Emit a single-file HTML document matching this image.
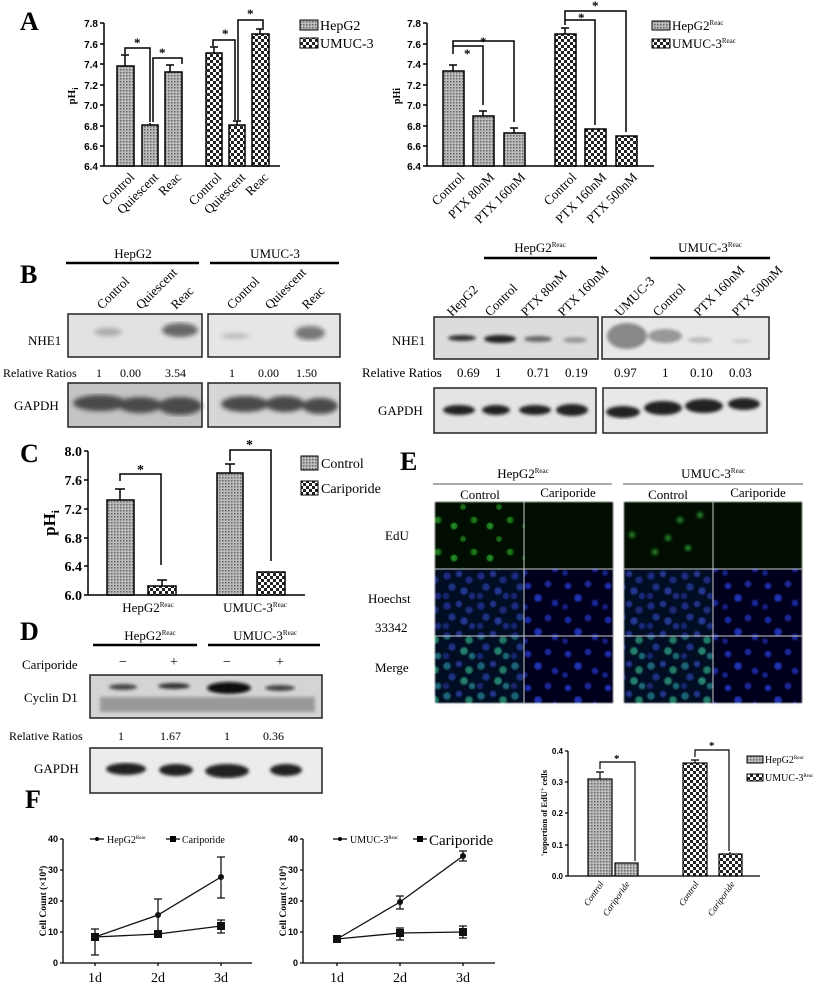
<!DOCTYPE html>
<html><head><meta charset="utf-8"><style>
body{margin:0;background:#fff}
svg{display:block;font-family:"Liberation Serif",serif}
</style></head><body>
<svg width="825" height="985" viewBox="0 0 825 985" xmlns="http://www.w3.org/2000/svg">
<defs>
<pattern id="pd" width="3" height="3" patternUnits="userSpaceOnUse"><rect width="3" height="3" fill="#bbb"/><rect width="1.5" height="1.5" fill="#666"/></pattern>
<pattern id="pc" width="6" height="6" patternUnits="userSpaceOnUse"><rect width="6" height="6" fill="#fff"/><rect width="3" height="3" fill="#222"/><rect x="3" y="3" width="3" height="3" fill="#222"/></pattern>
<pattern id="cb1" width="34" height="30" patternUnits="userSpaceOnUse"><rect width="34" height="30" fill="#050720"/><circle cx="5" cy="6" r="3.5" fill="#1c2c80"/><circle cx="17" cy="4" r="3" fill="#22348a"/><circle cx="27" cy="10" r="3.5" fill="#1a2a78"/><circle cx="10" cy="17" r="3.5" fill="#1e3080"/><circle cx="22" cy="21" r="3.5" fill="#243890"/><circle cx="4" cy="26" r="3" fill="#182670"/><circle cx="30" cy="26" r="3" fill="#1c2c80"/></pattern>
<pattern id="cb2" width="40" height="34" patternUnits="userSpaceOnUse"><rect width="40" height="34" fill="#04061c"/><circle cx="8" cy="8" r="3" fill="#1e2ca8"/><circle cx="28" cy="6" r="3" fill="#1a2898"/><circle cx="18" cy="20" r="3.5" fill="#2232b0"/><circle cx="35" cy="25" r="3" fill="#1a2898"/><circle cx="5" cy="29" r="2.5" fill="#16228c"/></pattern>
<pattern id="cm1" width="34" height="30" patternUnits="userSpaceOnUse"><rect width="34" height="30" fill="#050720"/><circle cx="5" cy="6" r="3.5" fill="#1c6478"/><circle cx="17" cy="4" r="3" fill="#22348a"/><circle cx="27" cy="10" r="3.5" fill="#207a68"/><circle cx="10" cy="17" r="3.5" fill="#1e3080"/><circle cx="22" cy="21" r="3.5" fill="#268070"/><circle cx="4" cy="26" r="3" fill="#182670"/><circle cx="30" cy="26" r="3" fill="#1c6878"/></pattern>
<pattern id="cg1" width="36" height="32" patternUnits="userSpaceOnUse"><rect width="36" height="32" fill="#030c05"/><circle cx="6" cy="8" r="3" fill="#1e781e"/><circle cx="22" cy="14" r="3" fill="#268a26"/><circle cx="31" cy="27" r="2.5" fill="#1e701e"/></pattern>
<filter id="bl"><feGaussianBlur stdDeviation="2.5"/></filter>
<filter id="bl1"><feGaussianBlur stdDeviation="1.5"/></filter>
<filter id="bl05"><feGaussianBlur stdDeviation="0.8"/></filter>
</defs>

<g font-weight="bold" font-size="26"><text x="20" y="30">A</text><text x="20" y="283">B</text><text x="20" y="462">C</text><text x="20" y="640">D</text><text x="400" y="470">E</text><text x="25" y="808">F</text></g>

<!-- A left -->
<g stroke="#000" stroke-width="1.5" fill="none">
<path d="M104,23V166H280"/>
<path d="M100,23h4M100,44h4M100,64h4M100,85h4M100,105h4M100,126h4M100,146h4M100,166h4"/>
</g>
<g font-size="10" font-weight="bold" text-anchor="end" font-family="Liberation Sans,sans-serif"><text x="98" y="27">7.8</text><text x="98" y="48">7.6</text><text x="98" y="68">7.4</text><text x="98" y="89">7.2</text><text x="98" y="109">7.0</text><text x="98" y="130">6.8</text><text x="98" y="150">6.6</text><text x="98" y="170">6.4</text></g>
<text transform="translate(75,96) rotate(-90)" font-size="11" font-weight="bold" text-anchor="middle">pH<tspan font-size="8" dy="3">i</tspan></text>
<g stroke="#000" stroke-width="1.5">
<rect x="117" y="66" width="17" height="100" fill="url(#pd)"/><rect x="142" y="125" width="16" height="41" fill="url(#pd)"/><rect x="165" y="72" width="17" height="94" fill="url(#pd)"/>
<rect x="206" y="53" width="16" height="113" fill="url(#pc)"/><rect x="229" y="125" width="16" height="41" fill="url(#pc)"/><rect x="252" y="34" width="17" height="132" fill="url(#pc)"/>
<path fill="none" d="M125,66V55M121,55h8M170,72V65M166,65h8M214,53V47M210,47h8M260,34V29M256,29h8M150,125V123M237,125V121M233,121h8"/>
<path fill="none" d="M125,54V48H150V122M153,122V58H182V64M213,46V40H235V120M238,120V20H263V28"/>
</g>
<g font-size="13" font-weight="bold"><text x="134" y="47">*</text><text x="159" y="57">*</text><text x="222" y="38">*</text><text x="247" y="18">*</text></g>
<g font-size="13" text-anchor="end"><text transform="translate(135,178) rotate(-45)">Control</text><text transform="translate(159,178) rotate(-45)">Quiescent</text><text transform="translate(182,178) rotate(-45)">Reac</text><text transform="translate(222,178) rotate(-45)">Control</text><text transform="translate(246,178) rotate(-45)">Quiescent</text><text transform="translate(269,178) rotate(-45)">Reac</text></g>
<rect x="300" y="20" width="18" height="10" fill="url(#pd)" stroke="#000"/><rect x="300" y="38" width="18" height="10" fill="url(#pc)" stroke="#000"/>
<g font-size="14"><text x="320" y="30">HepG2</text><text x="320" y="48">UMUC-3</text></g>

<!-- A right -->
<g stroke="#000" stroke-width="1.5" fill="none">
<path d="M427,23V166H654"/>
<path d="M423,23h4M423,44h4M423,64h4M423,85h4M423,105h4M423,126h4M423,146h4M423,166h4"/>
</g>
<g font-size="10" font-weight="bold" text-anchor="end" font-family="Liberation Sans,sans-serif"><text x="421" y="27">7.8</text><text x="421" y="48">7.6</text><text x="421" y="68">7.4</text><text x="421" y="89">7.2</text><text x="421" y="109">7.0</text><text x="421" y="130">6.8</text><text x="421" y="150">6.6</text><text x="421" y="170">6.4</text></g>
<text transform="translate(400,96) rotate(-90)" font-size="10" font-weight="bold" text-anchor="middle">pHi</text>
<g stroke="#000" stroke-width="1.5">
<rect x="443" y="71" width="21" height="95" fill="url(#pd)"/><rect x="473" y="116" width="21" height="50" fill="url(#pd)"/><rect x="504" y="133" width="21" height="33" fill="url(#pd)"/>
<rect x="555" y="34" width="21" height="132" fill="url(#pc)"/><rect x="585" y="129" width="21" height="37" fill="url(#pc)"/><rect x="616" y="136" width="21" height="30" fill="url(#pc)"/>
<path fill="none" d="M453,71V65M449,65h8M483,116V111M479,111h8M514,133V128M510,128h8M565,34V28M561,28h8"/>
<path fill="none" d="M453,54V46H483V105M453,58V58M453,50V41H514V122M565,25V20H595V125M565,20V11H626V132"/>
</g>
<g font-size="13" font-weight="bold"><text x="464" y="58">*</text><text x="480" y="46">*</text><text x="578" y="22">*</text><text x="592" y="10">*</text></g>
<g font-size="13" text-anchor="end"><text transform="translate(465,178) rotate(-45)">Control</text><text transform="translate(495,178) rotate(-45)">PTX 80nM</text><text transform="translate(526,178) rotate(-45)">PTX 160nM</text><text transform="translate(577,178) rotate(-45)">Control</text><text transform="translate(607,178) rotate(-45)">PTX 160nM</text><text transform="translate(638,178) rotate(-45)">PTX 500nM</text></g>
<rect x="652" y="21" width="18" height="9" fill="url(#pd)" stroke="#000"/><rect x="652" y="39" width="18" height="9" fill="url(#pc)" stroke="#000"/>
<g font-size="13"><text x="672" y="30">HepG2<tspan font-size="7" dy="-5">Reac</tspan></text><text x="672" y="48">UMUC-3<tspan font-size="7" dy="-5">Reac</tspan></text></g>

<!-- B left -->
<g stroke="#000" stroke-width="2.5"><path d="M66,263H199M210,263H339M484,258H597M650,258H770"/></g>
<g font-size="13" text-anchor="middle"><text x="133" y="258">HepG2</text><text x="275" y="258">UMUC-3</text><text x="540" y="252">HepG2<tspan font-size="7" dy="-5">Reac</tspan></text><text x="710" y="252">UMUC-3<tspan font-size="7" dy="-5">Reac</tspan></text></g>
<g font-size="13" text-anchor="start"><text transform="translate(102,310) rotate(-45)">Control</text><text transform="translate(141,310) rotate(-45)">Quiescent</text><text transform="translate(176,310) rotate(-45)">Reac</text><text transform="translate(232,310) rotate(-45)">Control</text><text transform="translate(270,310) rotate(-45)">Quiescent</text><text transform="translate(307,310) rotate(-45)">Reac</text></g>
<rect x="68" y="314" width="134" height="43" fill="#e2e2e2" stroke="#222" stroke-width="1.5"/>
<rect x="208" y="314" width="132" height="43" fill="#e6e6e6" stroke="#222" stroke-width="1.5"/>
<g filter="url(#bl)"><ellipse cx="108" cy="332" rx="14" ry="4" fill="#aaa"/><ellipse cx="180" cy="330" rx="18" ry="7" fill="#666"/><ellipse cx="310" cy="333" rx="15" ry="7" fill="#777"/><ellipse cx="235" cy="336" rx="14" ry="3" fill="#bbb"/></g>
<rect x="68" y="383" width="134" height="44" fill="#c4c4c4" stroke="#222" stroke-width="1.5"/>
<rect x="208" y="383" width="132" height="44" fill="#d6d6d6" stroke="#222" stroke-width="1.5"/>
<g filter="url(#bl)" fill="#4a4a4a"><ellipse cx="100" cy="403" rx="27" ry="8"/><ellipse cx="140" cy="405" rx="22" ry="8"/><ellipse cx="180" cy="406" rx="22" ry="9"/><ellipse cx="245" cy="404" rx="24" ry="8"/><ellipse cx="285" cy="404" rx="20" ry="8"/><ellipse cx="320" cy="406" rx="18" ry="8"/></g>
<g font-size="13"><text x="28" y="345">NHE1</text><text x="14" y="410">GAPDH</text></g>
<g font-size="12"><text x="3" y="377">Relative Ratios</text><text x="96" y="377">1</text><text x="120" y="377">0.00</text><text x="165" y="377">3.54</text><text x="229" y="377">1</text><text x="258" y="377">0.00</text><text x="296" y="377">1.50</text></g>

<!-- B right -->
<g font-size="13"><text x="392" y="345">NHE1</text><text x="378" y="415">GAPDH</text><text x="362" y="377">Relative Ratios</text></g>
<g font-size="13"><text transform="translate(452,317) rotate(-45)">HepG2</text><text transform="translate(490,317) rotate(-45)">Control</text><text transform="translate(526,317) rotate(-45)">PTX 80nM</text><text transform="translate(563,317) rotate(-45)">PTX 160nM</text><text transform="translate(620,317) rotate(-45)">UMUC-3</text><text transform="translate(658,317) rotate(-45)">Control</text><text transform="translate(699,317) rotate(-45)">PTX 160nM</text><text transform="translate(737,317) rotate(-45)">PTX 500nM</text></g>
<rect x="434" y="317" width="164" height="42" fill="#dcdcdc" stroke="#222" stroke-width="1.5"/>
<rect x="602" y="317" width="167" height="42" fill="#e8e8e8" stroke="#222" stroke-width="1.5"/>
<g filter="url(#bl1)"><ellipse cx="462" cy="338" rx="14" ry="3" fill="#333"/><ellipse cx="500" cy="339" rx="16" ry="4" fill="#222"/><ellipse cx="538" cy="339" rx="14" ry="3" fill="#666"/><ellipse cx="575" cy="340" rx="12" ry="3" fill="#999"/><ellipse cx="627" cy="336" rx="20" ry="13" fill="#888"/><ellipse cx="665" cy="336" rx="17" ry="7" fill="#999"/><ellipse cx="700" cy="340" rx="12" ry="3" fill="#bbb"/><ellipse cx="742" cy="341" rx="10" ry="2" fill="#ccc"/></g>
<g font-size="13"><text x="457" y="377">0.69</text><text x="495" y="377">1</text><text x="527" y="377">0.71</text><text x="565" y="377">0.19</text><text x="614" y="377">0.97</text><text x="662" y="377">1</text><text x="690" y="377">0.10</text><text x="729" y="377">0.03</text></g>
<rect x="434" y="388" width="162" height="45" fill="#e4e4e4" stroke="#222" stroke-width="1.5"/>
<rect x="603" y="388" width="164" height="45" fill="#e8e8e8" stroke="#222" stroke-width="1.5"/>
<g filter="url(#bl1)" fill="#222"><ellipse cx="459" cy="410" rx="16" ry="5"/><ellipse cx="496" cy="410" rx="14" ry="5"/><ellipse cx="535" cy="410" rx="16" ry="5"/><ellipse cx="572" cy="410" rx="16" ry="6"/><ellipse cx="623" cy="412" rx="17" ry="6"/><ellipse cx="663" cy="408" rx="19" ry="7"/><ellipse cx="704" cy="406" rx="19" ry="7"/><ellipse cx="744" cy="404" rx="16" ry="6"/></g>

<!-- C -->
<g stroke="#000" stroke-width="1.5" fill="none"><path d="M88,451V595H305M84,451h4M84,480h4M84,509h4M84,538h4M84,566h4M84,595h4"/></g>
<g font-size="14" font-weight="bold" text-anchor="end"><text x="82" y="456">8.0</text><text x="82" y="485">7.6</text><text x="82" y="514">7.2</text><text x="82" y="543">6.8</text><text x="82" y="571">6.4</text><text x="82" y="600">6.0</text></g>
<text transform="translate(55,523) rotate(-90)" font-size="17" font-weight="bold" text-anchor="middle">pH<tspan font-size="11" dy="4">i</tspan></text>
<g stroke="#000" stroke-width="1.5">
<rect x="107" y="500" width="27" height="95" fill="url(#pd)"/><rect x="148" y="586" width="28" height="9" fill="url(#pc)"/>
<rect x="217" y="473" width="26" height="122" fill="url(#pd)"/><rect x="257" y="572" width="28" height="23" fill="url(#pc)"/>
<path fill="none" d="M120,500V489M115,489h10M162,586V580M157,580h10M230,473V464M225,464h10M120,481V474H161V565M230,461V450H271V561"/>
</g>
<g font-size="14" font-weight="bold"><text x="137" y="474">*</text><text x="246" y="449">*</text></g>
<g font-size="13" text-anchor="middle"><text x="148" y="612">HepG2<tspan font-size="7" dy="-5">Reac</tspan></text><text x="255" y="612">UMUC-3<tspan font-size="7" dy="-5">Reac</tspan></text></g>
<rect x="301" y="456" width="17" height="14" fill="url(#pd)" stroke="#000"/><rect x="301" y="481" width="17" height="14" fill="url(#pc)" stroke="#000"/>
<g font-size="14"><text x="321" y="468">Control</text><text x="321" y="493">Cariporide</text></g>

<!-- D -->
<g stroke="#000" stroke-width="2.5"><path d="M93,645H197M208,645H320"/></g>
<g font-size="13" text-anchor="middle"><text x="150" y="640">HepG2<tspan font-size="7" dy="-5">Reac</tspan></text><text x="265" y="640">UMUC-3<tspan font-size="7" dy="-5">Reac</tspan></text></g>
<g font-size="13"><text x="22" y="669">Cariporide</text><text x="24" y="702">Cyclin D1</text><text x="34" y="773">GAPDH</text></g>
<g font-size="14" text-anchor="middle"><text x="123" y="666">−</text><text x="174" y="666">+</text><text x="227" y="666">−</text><text x="280" y="666">+</text></g>
<rect x="90" y="675" width="232" height="43" fill="#d4d4d4" stroke="#222" stroke-width="1.5"/>
<g filter="url(#bl1)"><ellipse cx="123" cy="687" rx="14" ry="3" fill="#444"/><ellipse cx="174" cy="686" rx="16" ry="3" fill="#333"/><ellipse cx="229" cy="688" rx="22" ry="6" fill="#111"/><ellipse cx="280" cy="688" rx="15" ry="3" fill="#444"/><rect x="100" y="697" width="215" height="15" fill="#999"/></g>
<g font-size="12"><text x="9" y="740">Relative Ratios</text><text x="118" y="740">1</text><text x="160" y="740">1.67</text><text x="224" y="740">1</text><text x="263" y="740">0.36</text></g>
<rect x="90" y="748" width="232" height="45" fill="#ececec" stroke="#222" stroke-width="1.5"/>
<g filter="url(#bl1)" fill="#222"><ellipse cx="126" cy="769" rx="20" ry="6"/><ellipse cx="176" cy="770" rx="17" ry="6"/><ellipse cx="227" cy="771" rx="22" ry="7"/><ellipse cx="286" cy="770" rx="16" ry="6"/></g>

<!-- E -->
<g stroke="#555" stroke-width="1"><path d="M433,484H612M623,484H803"/></g>
<g font-size="13" text-anchor="middle"><text x="523" y="478">HepG2<tspan font-size="7" dy="-5">Reac</tspan></text><text x="713" y="478">UMUC-3<tspan font-size="7" dy="-5">Reac</tspan></text><text x="480" y="499">Control</text><text x="568" y="497">Cariporide</text><text x="668" y="499">Control</text><text x="758" y="497">Cariporide</text></g>
<g font-size="13"><text x="385" y="540">EdU</text><text x="368" y="603">Hoechst</text><text x="375" y="632">33342</text><text x="375" y="672">Merge</text></g>
<g filter="url(#bl05)">
<rect x="435" y="502" width="89" height="67" fill="url(#cg1)"/>
<rect x="524" y="502" width="89" height="67" fill="#040a05"/>
<rect x="624" y="502" width="89" height="67" fill="#030c05"/>
<rect x="713" y="502" width="89" height="67" fill="#040a05"/>
<rect x="435" y="569" width="89" height="67" fill="url(#cb1)"/>
<rect x="524" y="569" width="89" height="67" fill="url(#cb2)"/>
<rect x="624" y="569" width="89" height="67" fill="url(#cb1)"/>
<rect x="713" y="569" width="89" height="67" fill="url(#cb2)"/>
<rect x="435" y="636" width="89" height="67" fill="url(#cm1)"/>
<rect x="524" y="636" width="89" height="67" fill="url(#cb2)"/>
<rect x="624" y="636" width="89" height="67" fill="url(#cm1)"/>
<rect x="713" y="636" width="89" height="67" fill="url(#cb2)"/>
</g>
<g filter="url(#bl1)" fill="#2a8a2a">
<circle cx="632" cy="535" r="3"/><circle cx="668" cy="538" r="3"/><circle cx="680" cy="520" r="3"/><circle cx="688" cy="548" r="3"/><circle cx="700" cy="515" r="3"/><circle cx="655" cy="552" r="3"/>
</g>
<g stroke="#ccc" stroke-width="1"><path d="M524,502V703M713,502V703M435,569H613M624,569H802M435,636H613M624,636H802"/></g>

<!-- E bar -->
<g stroke="#000" stroke-width="1.3" fill="none"><path d="M568,751V876H760M565,751h3M565,782h3M565,813h3M565,845h3M565,876h3"/></g>
<g font-size="8" font-weight="bold" text-anchor="end" font-family="Liberation Sans,sans-serif"><text x="563" y="754">0.4</text><text x="563" y="785">0.3</text><text x="563" y="816">0.2</text><text x="563" y="848">0.1</text><text x="563" y="879">0.0</text></g>
<text transform="translate(547,813) rotate(-90)" font-size="8.5" font-weight="bold" text-anchor="middle">'roportion of EdU<tspan font-size="6" dy="-3">+</tspan><tspan dy="3"> cells</tspan></text>
<g stroke="#000" stroke-width="1.2">
<rect x="588" y="779" width="24" height="97" fill="url(#pd)"/><rect x="615" y="863" width="23" height="13" fill="url(#pd)"/>
<rect x="683" y="763" width="24" height="113" fill="url(#pc)"/><rect x="719" y="854" width="23" height="22" fill="url(#pc)"/>
<path fill="none" d="M600,779V772M596,772h8M695,763V760M691,760h8M730,854V852M600,769V762H635V861M695,757V750H729V851"/>
</g>
<g font-size="11" font-weight="bold"><text x="614" y="762">*</text><text x="709" y="749">*</text></g>
<g font-size="9" font-style="italic" text-anchor="end"><text transform="translate(604,884) rotate(-55)">Control</text><text transform="translate(630,884) rotate(-55)">Cariporide</text><text transform="translate(699,884) rotate(-55)">Control</text><text transform="translate(735,884) rotate(-55)">Cariporide</text></g>
<rect x="747" y="756" width="16" height="7" fill="url(#pd)" stroke="#000"/><rect x="747" y="774" width="16" height="7" fill="url(#pc)" stroke="#000"/>
<g font-size="10"><text x="765" y="763">HepG2<tspan font-size="5" dy="-4">Reac</tspan></text><text x="765" y="781">UMUC-3<tspan font-size="5" dy="-4">Reac</tspan></text></g>

<!-- F left -->
<g stroke="#000" stroke-width="1.3" fill="none"><path d="M63,839V963H252M60,839h3M60,870h3M60,901h3M60,932h3M60,963h3M95,963v3M158,963v3M221,963v3"/></g>
<g font-size="9" font-weight="bold" text-anchor="end" font-family="Liberation Sans,sans-serif"><text x="58" y="842">40</text><text x="58" y="873">30</text><text x="58" y="904">20</text><text x="58" y="935">10</text><text x="58" y="966">0</text></g>
<text transform="translate(46,901) rotate(-90)" font-size="9.5" font-weight="bold" text-anchor="middle">Cell Count (×10<tspan font-size="6" dy="-3">4</tspan><tspan dy="3">)</tspan></text>
<g font-size="14" text-anchor="middle"><text x="95" y="982">1d</text><text x="158" y="982">2d</text><text x="221" y="982">3d</text></g>
<g stroke="#111" stroke-width="1.3" fill="none">
<path d="M95,937L158,915L221,877"/><path d="M95,937L158,934L221,926"/>
<path d="M95,929V955M91,929h8M91,955h8M158,899V930M154,899h8M221,857V898M217,857h8M217,898h8M221,920V933M217,920h8M217,933h8"/>
</g>
<g fill="#111"><circle cx="95" cy="937" r="3"/><circle cx="158" cy="915" r="3"/><circle cx="221" cy="877" r="3"/><rect x="154" y="930" width="8" height="8"/><rect x="217" y="922" width="8" height="8"/><rect x="91" y="933" width="8" height="8"/></g>
<path d="M90,839H104M166,839H180" stroke="#000" stroke-width="1.2"/><circle cx="97" cy="839" r="2"/><rect x="170" y="836" width="6" height="6"/>
<g font-size="10"><text x="107" y="843">HepG2<tspan font-size="5" dy="-4">Reac</tspan></text><text x="182" y="843">Cariporide</text></g>

<!-- F right -->
<g stroke="#000" stroke-width="1.3" fill="none"><path d="M303,839V963H495M300,839h3M300,870h3M300,901h3M300,932h3M300,963h3M337,963v3M400,963v3M463,963v3"/></g>
<g font-size="9" font-weight="bold" text-anchor="end" font-family="Liberation Sans,sans-serif"><text x="298" y="842">40</text><text x="298" y="873">30</text><text x="298" y="904">20</text><text x="298" y="935">10</text><text x="298" y="966">0</text></g>
<text transform="translate(286,901) rotate(-90)" font-size="9.5" font-weight="bold" text-anchor="middle">Cell Count (×10<tspan font-size="6" dy="-3">4</tspan><tspan dy="3">)</tspan></text>
<g font-size="14" text-anchor="middle"><text x="337" y="982">1d</text><text x="400" y="982">2d</text><text x="463" y="982">3d</text></g>
<g stroke="#111" stroke-width="1.3" fill="none">
<path d="M337,939L400,902L463,856"/><path d="M337,939L400,933L463,932"/>
<path d="M400,896V909M396,896h8M396,909h8M463,851V861M459,851h8M459,861h8M400,928V940M396,928h8M396,940h8M463,926V938M459,926h8M459,938h8"/>
</g>
<g fill="#111"><circle cx="400" cy="902" r="3"/><circle cx="463" cy="856" r="3"/><rect x="333" y="935" width="8" height="8"/><rect x="396" y="929" width="8" height="8"/><rect x="459" y="928" width="8" height="8"/></g>
<path d="M333,839H347M413,839H427" stroke="#000" stroke-width="1.2"/><circle cx="340" cy="839" r="2"/><rect x="417" y="836" width="6" height="6"/>
<g><text x="350" y="843" font-size="10">UMUC-3<tspan font-size="5" dy="-4">Reac</tspan></text><text x="429" y="845" font-size="15">Cariporide</text></g>
</svg>
</body></html>
